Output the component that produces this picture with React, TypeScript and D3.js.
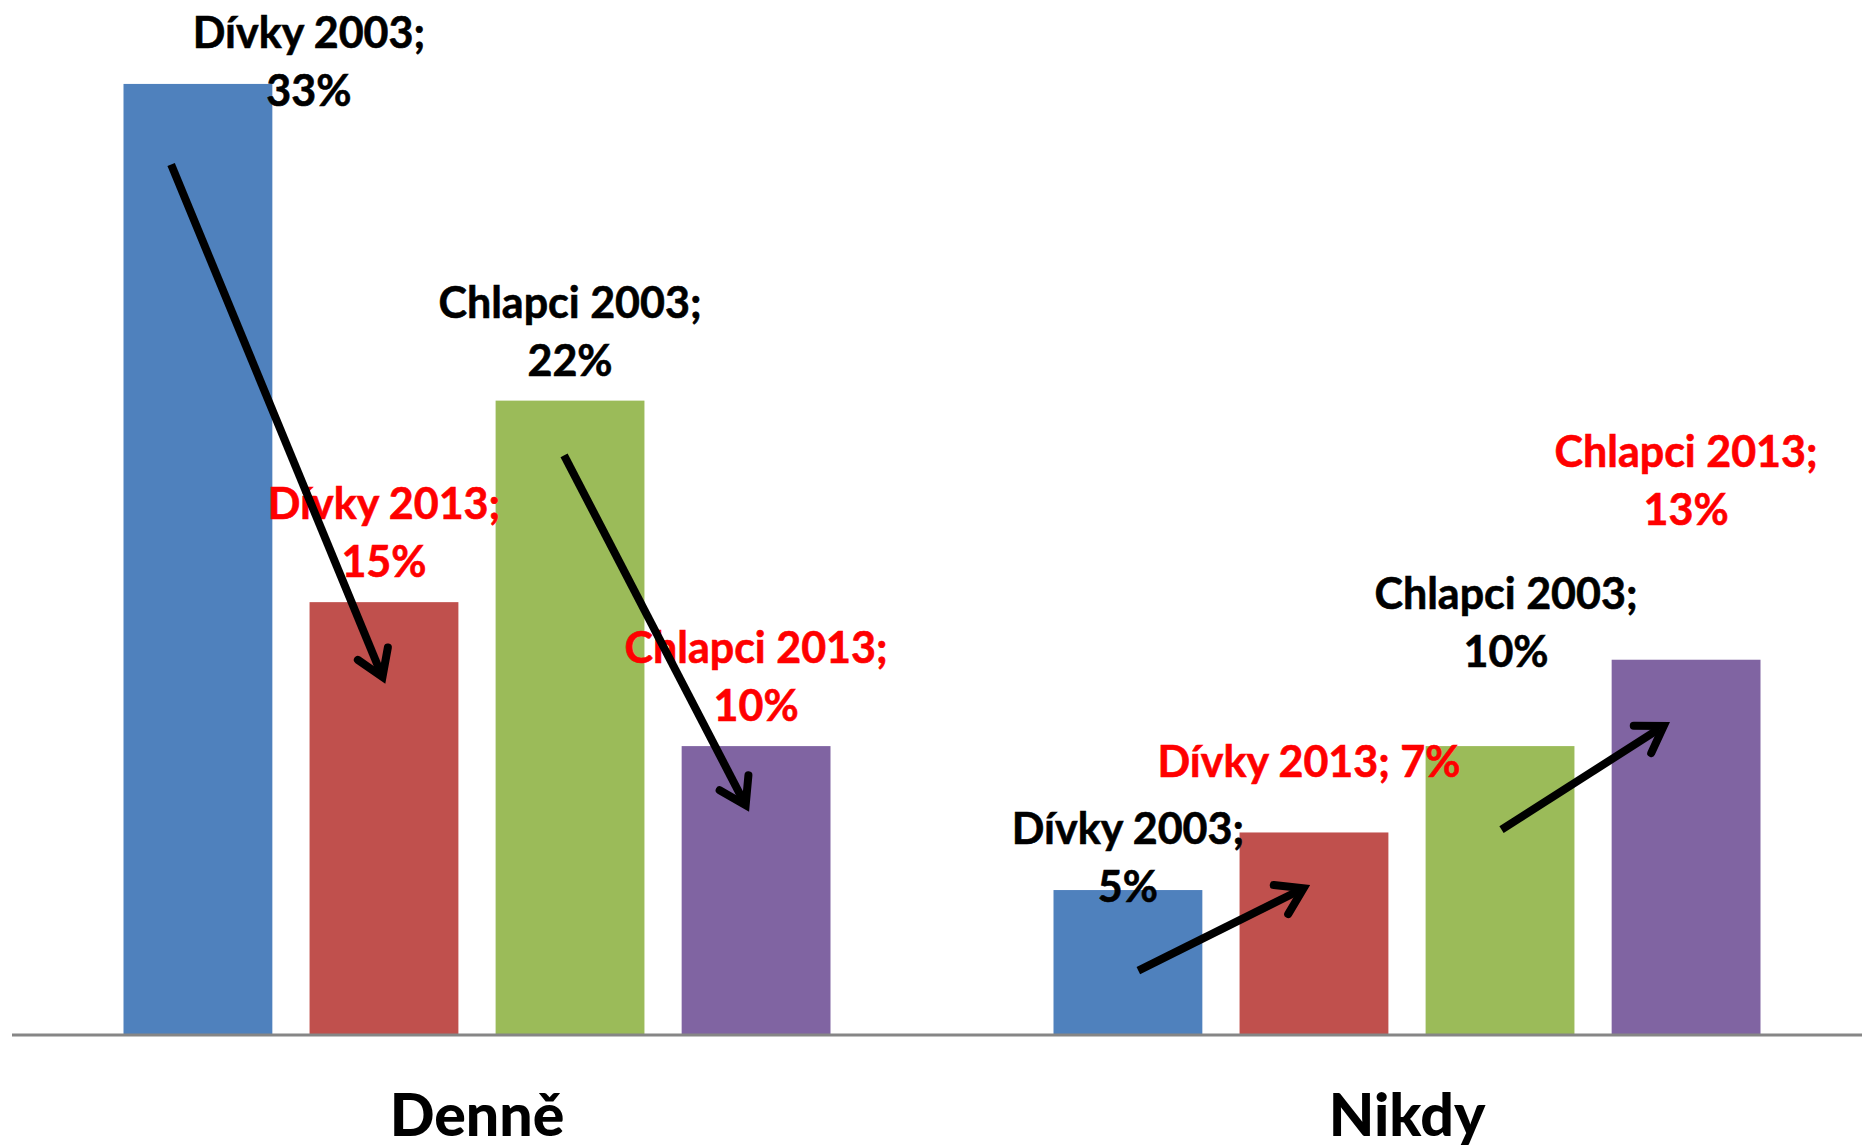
import { useEffect, useRef } from 'react';
import * as d3 from 'd3';

// categories and series
const categories = ['Denně', 'Nikdy'];
const seriesNames = ['Dívky 2003', 'Dívky 2013', 'Chlapci 2003', 'Chlapci 2013'];
const seriesColors = ['#4F81BD', '#C0504D', '#9BBB59', '#8064A2'];
const labelColors = ['#000000', '#FF0000', '#000000', '#FF0000'];

// values in %, per series, one per category
const divky2003 = [33, 5];
const divky2013 = [15, 7];
const chlapci2003 = [22, 10];
const chlapci2013 = [10, 13];
const values = [divky2003, divky2013, chlapci2003, chlapci2013];

// arrows: from series/value to series/value in the same category
const arrows = [
  { cat: 0, from: 0, fromPos: 0.32, fromV: 30.2, to: 1, toPos: 0.49, toV: 12.4 },
  { cat: 0, from: 2, fromPos: 0.46, fromV: 20.1, to: 3, toPos: 0.43, toV: 7.95 },
  { cat: 1, from: 0, fromPos: 0.57, fromV: 2.2, to: 1, toPos: 0.43, toV: 5.06 },
  { cat: 1, from: 2, fromPos: 0.51, fromV: 7.1, to: 3, toPos: 0.35, toV: 10.7 },
];

export default function App() {
  const svgRef = useRef(null);

  useEffect(() => {
    const width = 1862;
    const height = 1145;
    const baseY = 1034;

    const svg = d3.select(svgRef.current)
      .attr('width', width)
      .attr('height', height);
    svg.selectAll('*').remove();

    const x0 = d3.scaleBand().domain(categories).range([12, 1872]).paddingInner(0).paddingOuter(0);
    // group occupies 707 of 930 px; bars with 25% gaps
    const groupW = x0.bandwidth() * (707 / 930);
    const x1 = d3.scaleBand()
      .domain(seriesNames)
      .range([0, groupW])
      .paddingInner(0.2);
    const groupStart = (c) => x0(categories[c]) + (x0.bandwidth() - groupW) / 2;

    const y = d3.scaleLinear().domain([0, 35]).range([baseY, baseY - 35 * 28.79]);

    // bars
    values.forEach((vals, s) => {
      svg.append('g')
        .selectAll('rect')
        .data(vals)
        .join('rect')
        .attr('x', (d, c) => groupStart(c) + x1(seriesNames[s]))
        .attr('y', d => y(d))
        .attr('width', x1.bandwidth())
        .attr('height', d => baseY - y(d))
        .attr('fill', seriesColors[s]);
    });

    // axis line
    svg.append('line')
      .attr('x1', 12).attr('x2', width)
      .attr('y1', baseY + 1).attr('y2', baseY + 1)
      .attr('stroke', '#868686')
      .attr('stroke-width', 3);

    // category labels
    svg.append('g')
      .selectAll('text')
      .data(categories)
      .join('text')
      .attr('x', d => x0(d) + x0.bandwidth() / 2)
      .attr('y', 1136)
      .attr('text-anchor', 'middle')
      .attr('font-family', 'Lato, sans-serif')
      .attr('font-weight', 900)
      .attr('font-size', 59)
      .attr('fill', '#000')
      .text(d => d);

    // data labels: [dx, dy of last line relative to bar top, single line?]
    const labelLayout = [
      [[111, 22, false], [0, 12, false]],
      [[0, -25, false], [-5, -55, true]],
      [[0, -25, false], [6, -79, false]],
      [[0, -25, false], [0, -135, false]],
    ];
    const lineH = 58;
    const labels = svg.append('g')
      .attr('font-family', 'Lato, sans-serif')
      .attr('font-weight', 700)
      .attr('font-size', 43)
      .attr('text-anchor', 'middle');
    values.forEach((vals, s) => {
      vals.forEach((v, c) => {
        const [dx, dy, single] = labelLayout[s][c];
        const cx = groupStart(c) + x1(seriesNames[s]) + x1.bandwidth() / 2 + dx;
        const by = y(v) + dy;
        const t = labels.append('text')
          .attr('fill', labelColors[s])
          .attr('stroke', labelColors[s])
          .attr('stroke-width', 0.6);
        if (single) {
          t.append('tspan').attr('x', cx).attr('y', by).text(`${seriesNames[s]}; ${v}%`);
        } else {
          t.append('tspan').attr('x', cx).attr('y', by - lineH).text(`${seriesNames[s]};`);
          t.append('tspan').attr('x', cx).attr('y', by).text(`${v}%`);
        }
      });
    });

    // arrows
    const ag = svg.append('g')
      .attr('stroke', '#000')
      .attr('stroke-width', 8)
      .attr('fill', 'none');
    arrows.forEach(a => {
      const xa = groupStart(a.cat) + x1(seriesNames[a.from]) + x1.bandwidth() * a.fromPos;
      const ya = y(a.fromV);
      const xb = groupStart(a.cat) + x1(seriesNames[a.to]) + x1.bandwidth() * a.toPos;
      const yb = y(a.toV);
      const ang = Math.atan2(yb - ya, xb - xa);
      const head = 30;
      const spread = Math.PI / 5.5;
      ag.append('line')
        .attr('x1', xa).attr('y1', ya)
        .attr('x2', xb - Math.cos(ang) * 6).attr('y2', yb - Math.sin(ang) * 6);
      const p = d3.path();
      p.moveTo(xb - head * Math.cos(ang - spread), yb - head * Math.sin(ang - spread));
      p.lineTo(xb, yb);
      p.lineTo(xb - head * Math.cos(ang + spread), yb - head * Math.sin(ang + spread));
      ag.append('path')
        .attr('d', p.toString())
        .attr('stroke-linecap', 'round')
        .attr('stroke-linejoin', 'miter');
    });
  }, []);

  return (
    <div style={{ position: 'absolute', left: 0, top: 0 }}>
      <svg ref={svgRef} style={{ display: 'block', background: '#fff' }}></svg>
    </div>
  );
}
